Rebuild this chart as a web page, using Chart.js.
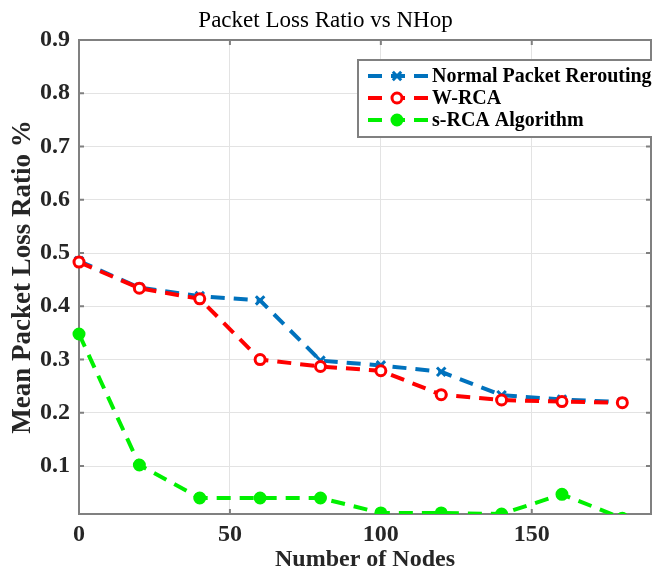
<!DOCTYPE html>
<html>
<head>
<meta charset="utf-8">
<title>Packet Loss Ratio vs NHop</title>
<script src="https://cdn.jsdelivr.net/npm/chart.js@4.4.1/dist/chart.umd.min.js"></script>
<style>
  html, body { margin: 0; padding: 0; background: #fff; overflow: hidden; }
  canvas { display: block; }
</style>
</head>
<body>
<canvas id="grafico" width="652" height="574"></canvas>
<script>
// datos
const nodos = [0, 20, 40, 60, 80, 100, 120, 140, 160, 180];
const normalRerouting = [0.485, 0.435, 0.419, 0.411, 0.298, 0.289, 0.277, 0.233, 0.225, 0.220];
const wRca = [0.483, 0.434, 0.414, 0.300, 0.287, 0.279, 0.234, 0.224, 0.221, 0.219];
const sRca = [0.348, 0.102, 0.040, 0.040, 0.040, 0.012, 0.012, 0.010, 0.047, 0.002];
const seriesNames = ['Normal Packet Rerouting', 'W-RCA', 's-RCA Algorithm'];
const xTicks = [0, 50, 100, 150];
const yTicks = [0.1, 0.2, 0.3, 0.4, 0.5, 0.6, 0.7, 0.8, 0.9];

const SERIF = '"Liberation Serif", "Times New Roman", serif';
const AZUL = '#0072bd';
const ROJO = '#ff0000';
const VERDE = '#00f000';

function puntos(valores) {
  return nodos.map((x, i) => ({ x, y: valores[i] }));
}

const estilos = [
  { color: AZUL, pointStyle: 'crossRot', radius: 6, fondo: AZUL, order: 3 },
  { color: ROJO, pointStyle: 'circle', radius: 5, fondo: '#ffffff', order: 2 },
  { color: VERDE, pointStyle: 'circle', radius: 5, fondo: VERDE, order: 1 }
];

const datasets = [normalRerouting, wRca, sRca].map((serie, i) => ({
  label: seriesNames[i],
  data: puntos(serie),
  borderColor: estilos[i].color,
  backgroundColor: estilos[i].fondo,
  borderWidth: 4,
  borderDash: [14, 9],
  pointStyle: estilos[i].pointStyle,
  pointRadius: estilos[i].radius,
  pointBorderWidth: 3,
  pointBorderColor: estilos[i].color,
  pointBackgroundColor: estilos[i].fondo,
  order: estilos[i].order,
  clip: i === 2 ? { left: 10, top: 10, right: 10, bottom: 0 } : false
}));

// marco del eje con marcas hacia adentro, como en MATLAB
const marcoPlugin = {
  id: 'marco',
  beforeDatasetsDraw(chart) {
    const { ctx, chartArea: a, scales } = chart;
    ctx.save();
    ctx.strokeStyle = '#808080';
    ctx.lineWidth = 2;
    ctx.beginPath();
    xTicks.forEach(v => {
      const px = scales.x.getPixelForValue(v);
      ctx.moveTo(px, a.bottom); ctx.lineTo(px, a.bottom - 5);
      ctx.moveTo(px, a.top); ctx.lineTo(px, a.top + 5);
    });
    yTicks.forEach(v => {
      const py = scales.y.getPixelForValue(v);
      ctx.moveTo(a.left, py); ctx.lineTo(a.left + 5, py);
      ctx.moveTo(a.right, py); ctx.lineTo(a.right - 5, py);
    });
    ctx.stroke();
    ctx.strokeRect(a.left, a.top, a.right - a.left, a.bottom - a.top);
    ctx.restore();
  },
  afterDraw(chart) {
    const { ctx } = chart;
    // leyenda dentro del area del grafico
    const caja = { x: 358, y: 60, w: 320, h: 77 };
    ctx.save();
    ctx.fillStyle = '#ffffff';
    ctx.fillRect(caja.x, caja.y, caja.w, caja.h);
    ctx.strokeStyle = '#808080';
    ctx.lineWidth = 2;
    ctx.strokeRect(caja.x, caja.y, caja.w, caja.h);
    ctx.font = 'bold 20px ' + SERIF;
    ctx.textBaseline = 'middle';
    chart.data.datasets.forEach((ds, i) => {
      const y = 76 + i * 22;
      ctx.strokeStyle = ds.borderColor;
      ctx.lineWidth = 4;
      ctx.setLineDash([14, 9]);
      ctx.beginPath();
      ctx.moveTo(368, y);
      ctx.lineTo(428, y);
      ctx.stroke();
      ctx.setLineDash([]);
      ctx.fillStyle = ds.pointBackgroundColor;
      ctx.strokeStyle = ds.pointBorderColor;
      ctx.lineWidth = ds.pointBorderWidth;
      ctx.beginPath();
      const r = ds.pointRadius;
      if (ds.pointStyle === 'circle') {
        ctx.arc(397, y, r, 0, Math.PI * 2);
        ctx.fill();
        ctx.stroke();
      } else {
        ctx.moveTo(397 - r * 0.7, y - r * 0.7); ctx.lineTo(397 + r * 0.7, y + r * 0.7);
        ctx.moveTo(397 + r * 0.7, y - r * 0.7); ctx.lineTo(397 - r * 0.7, y + r * 0.7);
        ctx.stroke();
      }
      ctx.fillStyle = '#000000';
      ctx.fillText(ds.label, 432, y + 1);
    });
    ctx.restore();
  }
};

const ctx = document.getElementById('grafico').getContext('2d');
new Chart(ctx, {
  type: 'line',
  data: { datasets },
  options: {
    responsive: false,
    animation: false,
    layout: { autoPadding: false, padding: { left: 0, right: 1, top: 0, bottom: 0 } },
    plugins: {
      legend: { display: false },
      tooltip: { enabled: false },
      title: {
        display: true,
        text: 'Packet Loss Ratio vs NHop',
        color: '#000000',
        font: { family: SERIF, size: 23, weight: 'normal' },
        padding: { top: 7, bottom: 5.4 }
      }
    },
    scales: {
      x: {
        type: 'linear',
        min: 0,
        max: 189.5,
        afterBuildTicks: s => { s.ticks = xTicks.map(v => ({ value: v })); },
        afterFit: s => { s.height = 60; s.paddingLeft = 0; s.paddingRight = 0; },
        grid: { color: '#e3e3e3', lineWidth: 1, drawTicks: false },
        border: { display: false },
        ticks: {
          color: '#262626',
          padding: 6,
          maxRotation: 0,
          font: { family: SERIF, size: 24, weight: 'bold' }
        },
        title: {
          display: true,
          text: 'Number of Nodes',
          color: '#262626',
          padding: { top: 0, bottom: 0 },
          font: { family: SERIF, size: 24, weight: 'bold' }
        }
      },
      y: {
        type: 'linear',
        min: 0.01,
        max: 0.9,
        afterBuildTicks: s => { s.ticks = yTicks.map(v => ({ value: v })); },
        afterFit: s => { s.width = 79; },
        grid: { color: '#e3e3e3', lineWidth: 1, drawTicks: false },
        border: { display: false },
        ticks: {
          color: '#262626',
          padding: 9,
          callback: v => v.toFixed(1),
          font: { family: SERIF, size: 24, weight: 'bold' }
        },
        title: {
          display: true,
          text: 'Mean Packet Loss Ratio %',
          color: '#262626',
          padding: { top: 7, bottom: 0 },
          font: { family: SERIF, size: 27, weight: 'bold' }
        }
      }
    }
  },
  plugins: [marcoPlugin]
});
</script>
</body>
</html>
